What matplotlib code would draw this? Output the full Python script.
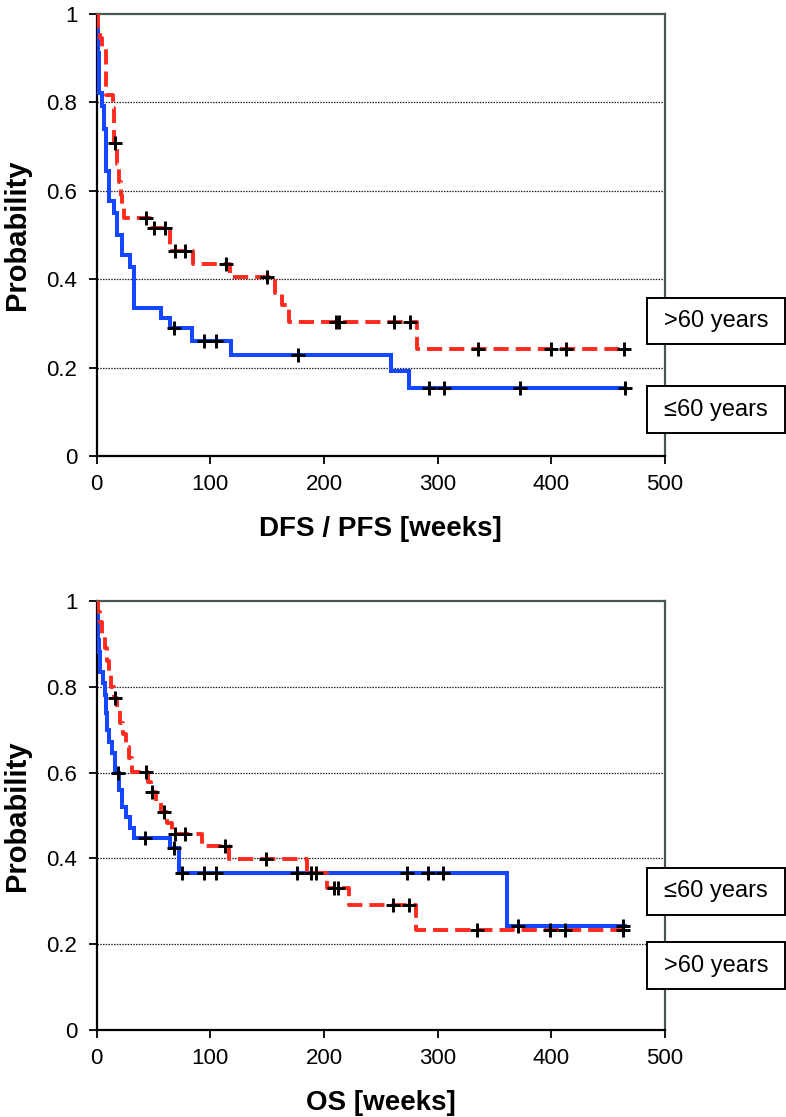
import numpy as np
import matplotlib
matplotlib.use("Agg")
import matplotlib.pyplot as plt
from matplotlib.patches import Rectangle

plt.rcParams['font.family'] = ['Liberation Sans', 'DejaVu Sans']

# ---------------- Data ----------------
# Top panel: DFS / PFS
dfs_young_t = [0, 0.4, 0.8, 1.2, 1.6, 2.0, 2.3, 4.5, 6.0, 8.0, 11.1, 14.9, 17.9, 22.2,
               29.4, 32.4, 56.5, 64.7, 83.8, 118.2, 258.8, 275.0]
dfs_young_s = [1.0, 0.97, 0.94, 0.91, 0.88, 0.85, 0.82, 0.79, 0.74, 0.643, 0.5755, 0.549,
               0.50, 0.454, 0.428, 0.334, 0.311, 0.289, 0.261, 0.228, 0.191, 0.153]
dfs_young_cens = [67.6, 94.3, 104.6, 177.0, 292.6, 305.3, 372.0, 464.7]

dfs_old_t = [0, 1.5, 3.0, 4.7, 8.2, 14.1, 15.0, 15.5, 17.5, 19.5, 21.0, 22.5, 23.8, 47.0,
             64.5, 85.0, 117.6, 156.8, 162.7, 169.5, 281.7]
dfs_old_s = [1.0, 0.97, 0.945, 0.922, 0.816, 0.787, 0.735, 0.707, 0.66, 0.62, 0.59, 0.565,
             0.537, 0.515, 0.464, 0.435, 0.405, 0.368, 0.341, 0.303, 0.242]
dfs_old_cens = [15.9, 43.8, 50.0, 60.1, 69.0, 77.8, 114.1, 149.5, 210.6, 213.0, 261.7,
                275.9, 335.9, 400.0, 413.2, 464.1]

# Bottom panel: OS
os_young_t = [0, 0.5, 1.0, 1.5, 2.0, 2.5, 3.0, 5.9, 7.0, 8.2, 9.5, 11.0, 13.3, 16.2, 20.0,
              22.1, 25.9, 29.0, 32.4, 64.7, 72.0, 360.9]
os_young_s = [1.0, 0.97, 0.94, 0.91, 0.88, 0.86, 0.835, 0.808, 0.78, 0.74, 0.70, 0.672,
              0.645, 0.598, 0.56, 0.52, 0.497, 0.47, 0.447, 0.4235, 0.365, 0.2424]
os_young_cens = [19.1, 42.6, 67.6, 75.0, 94.3, 104.6, 176.5, 188.2, 192.6, 273.0, 291.7,
                 304.4, 370.6, 463.2]

os_old_t = [0, 1.5, 3.0, 5.0, 7.0, 9.0, 11.0, 13.0, 15.5, 18.0, 20.5, 23.0, 25.5, 28.0,
            31.0, 45.0, 48.0, 52.0, 57.0, 62.0, 66.0, 93.0, 116.2, 185.3, 202.9, 222.0, 281.0]
os_old_s = [1.0, 0.975, 0.95, 0.92, 0.89, 0.86, 0.835, 0.80, 0.773, 0.745, 0.715, 0.69,
            0.66, 0.635, 0.6006, 0.578, 0.5556, 0.532, 0.5074, 0.483, 0.458, 0.4297, 0.398,
            0.365, 0.330, 0.2914, 0.233]
os_old_cens = [15.9, 43.5, 48.5, 58.8, 69.1, 77.9, 113.2, 149.0, 208.8, 212.3, 261.0,
               275.0, 335.0, 398.5, 411.8, 463.0]

x_ticks = [0, 100, 200, 300, 400, 500]
y_ticks = [0, 0.2, 0.4, 0.6, 0.8, 1.0]
y_tick_labels = ['0', '0.2', '0.4', '0.6', '0.8', '1']
label_young = '≤60 years'
label_old = '>60 years'
end_young = 464.7
end_old = 464.1

BLUE = '#1447ff'
RED = '#ff2a1e'

W, H = 786, 1117
fig = plt.figure(figsize=(W / 100, H / 100), dpi=100)


def px_axes(left, top, right, bottom):
    return fig.add_axes([left / W, 1 - bottom / H, (right - left) / W, (bottom - top) / H])


def surv_at(t, s, c):
    t = np.asarray(t)
    s = np.asarray(s)
    idx = np.searchsorted(t, np.asarray(c), side='right') - 1
    return s[idx]


def panel(ax, yt, ys, yc, ot, os_, oc, xlabel):
    ax.set_xlim(0, 500)
    ax.set_ylim(0, 1)
    for g in [0.2, 0.4, 0.6, 0.8]:
        ax.axhline(g, color='#222222', lw=0.9, ls=(0, (1.2, 1.0)), zorder=1)
    ax.plot(list(yt) + [end_young], list(ys) + [ys[-1]], drawstyle='steps-post',
            color=BLUE, lw=2.9, zorder=3, solid_joinstyle='miter')
    ax.plot(list(ot) + [end_old], list(os_) + [os_[-1]], drawstyle='steps-post',
            color=RED, lw=2.8, ls=(0, (3.9, 1.8)), zorder=4)
    ax.plot(yc, surv_at(yt, ys, yc), '+', color='black', ms=9.5, mew=2.1, zorder=5)
    ax.plot(oc, surv_at(ot, os_, oc), '+', color='black', ms=9.5, mew=2.1, zorder=5)
    ax.set_xticks(x_ticks)
    ax.set_yticks(y_ticks)
    ax.set_yticklabels(y_tick_labels)
    ax.tick_params(direction='out', length=6, width=1.3, labelsize=16, colors='black')
    ax.tick_params(axis='y', pad=8)
    ax.tick_params(axis='x', pad=7)
    for side in ['left', 'bottom']:
        ax.spines[side].set_color('black')
        ax.spines[side].set_linewidth(1.6)
    for side in ['top', 'right']:
        ax.spines[side].set_color('#4a5656')
        ax.spines[side].set_linewidth(1.6)
    ax.set_ylabel('Probability', fontsize=21, fontweight='bold', labelpad=11)
    ax.set_xlabel(xlabel, fontsize=20, fontweight='bold', labelpad=15)


def box_label(text, top, bottom, left=647, right=785):
    fig.add_artist(Rectangle((left / W, 1 - bottom / H), (right - left) / W, (bottom - top) / H,
                             transform=fig.transFigure, fill=True, facecolor='white',
                             edgecolor='black', lw=1.4))
    fig.text((left + right) / 2 / W, 1 - (top + bottom) / 2 / H, text, ha='center',
             va='center', fontsize=17, family=['Liberation Sans', 'DejaVu Sans'])


ax1 = px_axes(96.7, 13.5, 665, 456)
panel(ax1, dfs_young_t, dfs_young_s, dfs_young_cens, dfs_old_t, dfs_old_s, dfs_old_cens,
      'DFS / PFS [weeks]')
ax2 = px_axes(96.7, 601, 665, 1030)
panel(ax2, os_young_t, os_young_s, os_young_cens, os_old_t, os_old_s, os_old_cens,
      'OS [weeks]')

box_label(label_old, 297.7, 344.3)
box_label(label_young, 386, 433.3)
box_label(label_young, 867.7, 915)
box_label(label_old, 942.3, 989.3)

fig.savefig('out.png', dpi=100)
